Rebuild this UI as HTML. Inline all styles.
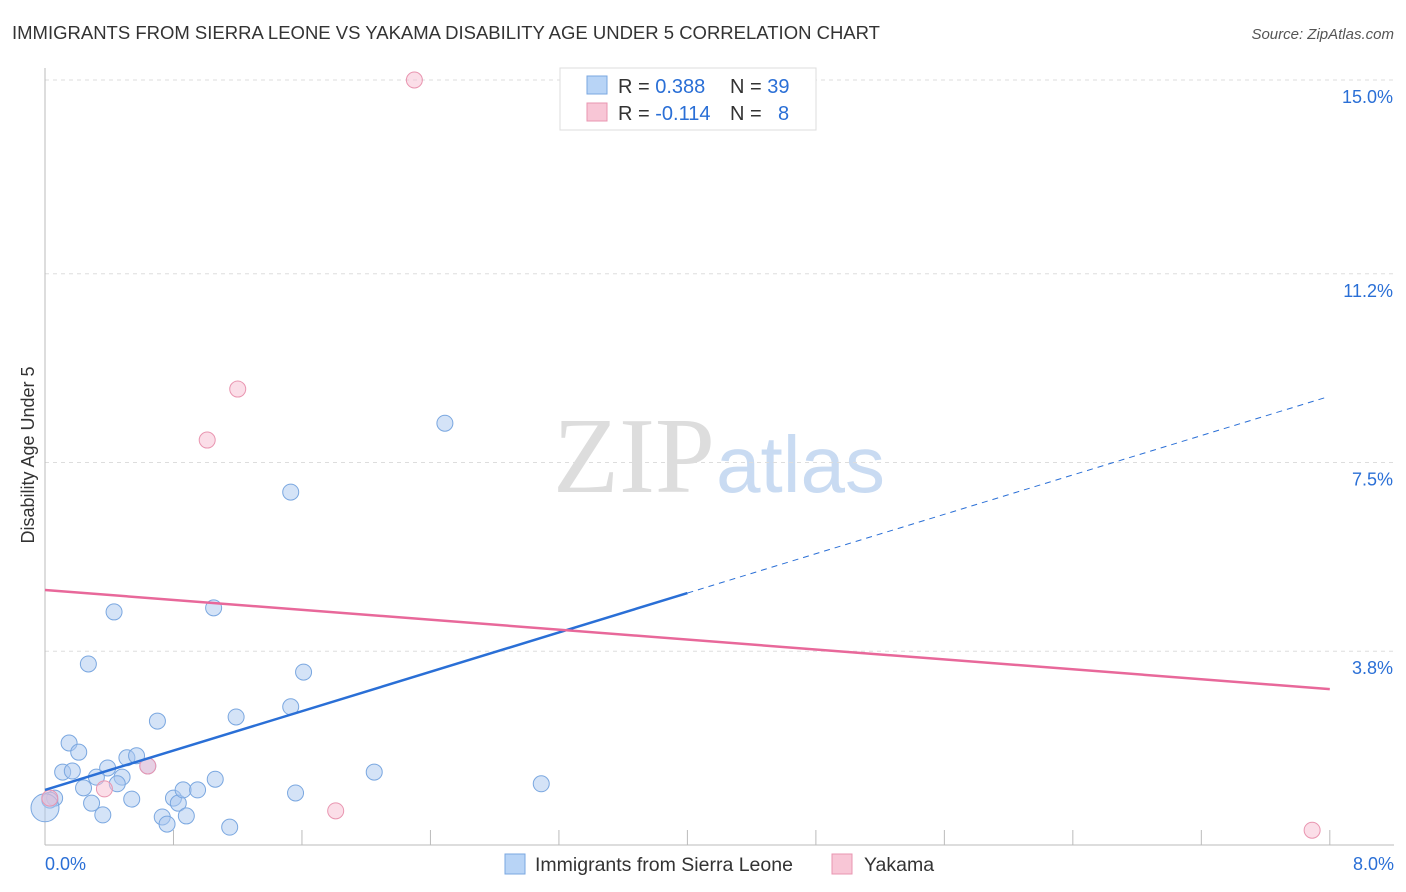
<!DOCTYPE html>
<html><head><meta charset="utf-8"><style>
body{margin:0;background:#fff;font-family:"Liberation Sans",sans-serif}
svg{display:block}
</style></head><body>
<svg width="1406" height="892">
<text x="12" y="39" font-size="18.5" fill="#333">IMMIGRANTS FROM SIERRA LEONE VS YAKAMA DISABILITY AGE UNDER 5 CORRELATION CHART</text>
<text x="1394" y="39" font-size="15" fill="#555" font-style="italic" text-anchor="end">Source: ZipAtlas.com</text>
<text x="715" y="492" font-size="108" fill="#ddd" text-anchor="end" font-family="Liberation Serif,serif">ZIP</text>
<text x="716" y="492" font-size="80" fill="#c9dbf2">atlas</text>
<g id="grid"></g>
<g id="marks"></g>
<text transform="translate(34,455) rotate(-90)" font-size="18" fill="#333" text-anchor="middle">Disability Age Under 5</text>
<g>
<rect x="560" y="68" width="256" height="62" fill="#fff" stroke="#ddd"/>
<rect x="587" y="76" width="20" height="18" fill="#b8d4f6" stroke="#7aa7e0"/>
<rect x="587" y="103" width="20" height="18" fill="#f8c6d6" stroke="#e995b0"/>
<text x="618" y="93" font-size="20" fill="#333">R = <tspan fill="#2a6fd6">0.388</tspan><tspan x="730">N = </tspan><tspan fill="#2a6fd6">39</tspan></text>
<text x="618" y="120" font-size="20" fill="#333">R = <tspan fill="#2a6fd6">-0.114</tspan><tspan x="730">N = </tspan><tspan x="778" fill="#2a6fd6">8</tspan></text>
</g>
<g>
<rect x="505" y="854" width="20" height="20" fill="#b8d4f6" stroke="#7aa7e0"/>
<text x="535" y="871" font-size="19.5" fill="#333">Immigrants from Sierra Leone</text>
<rect x="832" y="854" width="20" height="20" fill="#f8c6d6" stroke="#e995b0"/>
<text x="864" y="871" font-size="19.5" fill="#333">Yakama</text>
</g>
</svg>
<script>
const xTicks=[0,0.8,1.6,2.4,3.2,4.0,4.8,5.6,6.4,7.2,8.0];
const yTicks=[3.8,7.5,11.2,15.0];
const blueX=[2.49,1.53,0.43,1.05,0.27,1.61,0.70,1.19,1.53,0.15,0.21,0.11,0.17,0.39,0.32,0.51,0.57,0.48,0.64,0.45,0.24,0.06,0.29,0.54,0.36,0.73,0.76,0.80,0.83,0.86,0.88,0.95,1.06,1.15,1.56,2.05,3.09,0.03,0.00];
const blueY=[8.27,6.92,4.57,4.65,3.55,3.39,2.43,2.51,2.71,2.00,1.82,1.43,1.45,1.51,1.33,1.71,1.75,1.33,1.55,1.20,1.12,0.92,0.82,0.90,0.59,0.55,0.41,0.92,0.82,1.08,0.57,1.08,1.29,0.35,1.02,1.43,1.20,0.88,0.73];
const pinkX=[2.30,1.20,1.01,0.64,0.37,1.81,7.89,0.03];
const pinkY=[15.0,8.94,7.94,1.55,1.10,0.67,0.29,0.92];
const blueFit=[1.08,0.965];
const pinkFit=[5.0,-0.243];
const X=v=>45+v*160.6, Y=v=>845-v*51.0;
const NS='http://www.w3.org/2000/svg';
const grid=document.getElementById('grid'), marks=document.getElementById('marks');
function mk(tag,at,parent){const e=document.createElementNS(NS,tag);for(const k in at)e.setAttribute(k,at[k]);parent.appendChild(e);return e;}
yTicks.forEach(t=>{
 const l=mk('line',{x1:45,x2:1394,y1:Y(t),y2:Y(t),stroke:'#ddd','stroke-dasharray':'4,4'},grid);
 
 
 const tx=mk('text',{x:1393,y:Y(t)+23,'font-size':18,fill:'#2a6fd6','text-anchor':'end'},grid);
 tx.textContent=t.toFixed(1)+'%';
 
 
});
mk('line',{x1:45,x2:45,y1:68,y2:845,stroke:'#bbb'},grid);
mk('line',{x1:45,x2:1394,y1:845,y2:845,stroke:'#bbb'},grid);
xTicks.forEach(t=>{
 const l=mk('line',{x1:X(t),x2:X(t),y1:830,y2:845,stroke:'#bbb'},grid);
 
 
});
[[0,'start',45],[8,'end',1394]].forEach(([t,a,x])=>{
 const tx=mk('text',{x:x,y:870,'font-size':18,fill:'#2a6fd6','text-anchor':a},grid);
 tx.textContent=t.toFixed(1)+'%';
 
 
});
blueX.forEach((v,i)=>{
 const c=mk('circle',{cx:X(v),cy:Y(blueY[i]),r:i==blueX.length-1?14:8,fill:'rgba(170,200,240,0.5)',stroke:'#7aa7e0','stroke-width':1},marks);
 
 
});
pinkX.forEach((v,i)=>{
 const c=mk('circle',{cx:X(v),cy:Y(pinkY[i]),r:8,fill:'rgba(248,190,210,0.5)',stroke:'#e995b0','stroke-width':1},marks);
 
 
});
const bl=mk('line',{x1:X(0),y1:Y(blueFit[0]),x2:X(4),y2:Y(blueFit[0]+blueFit[1]*4),stroke:'#2a6fd6','stroke-width':2.5},marks);


const bd=mk('line',{x1:X(4),y1:Y(blueFit[0]+blueFit[1]*4),x2:X(7.98),y2:Y(blueFit[0]+blueFit[1]*7.98),stroke:'#2a6fd6','stroke-width':1,'stroke-dasharray':'6,5'},marks);


const pl=mk('line',{x1:X(0),y1:Y(pinkFit[0]),x2:X(8),y2:Y(pinkFit[0]+pinkFit[1]*8),stroke:'#e8689a','stroke-width':2.5},marks);


</script>
</body></html>
